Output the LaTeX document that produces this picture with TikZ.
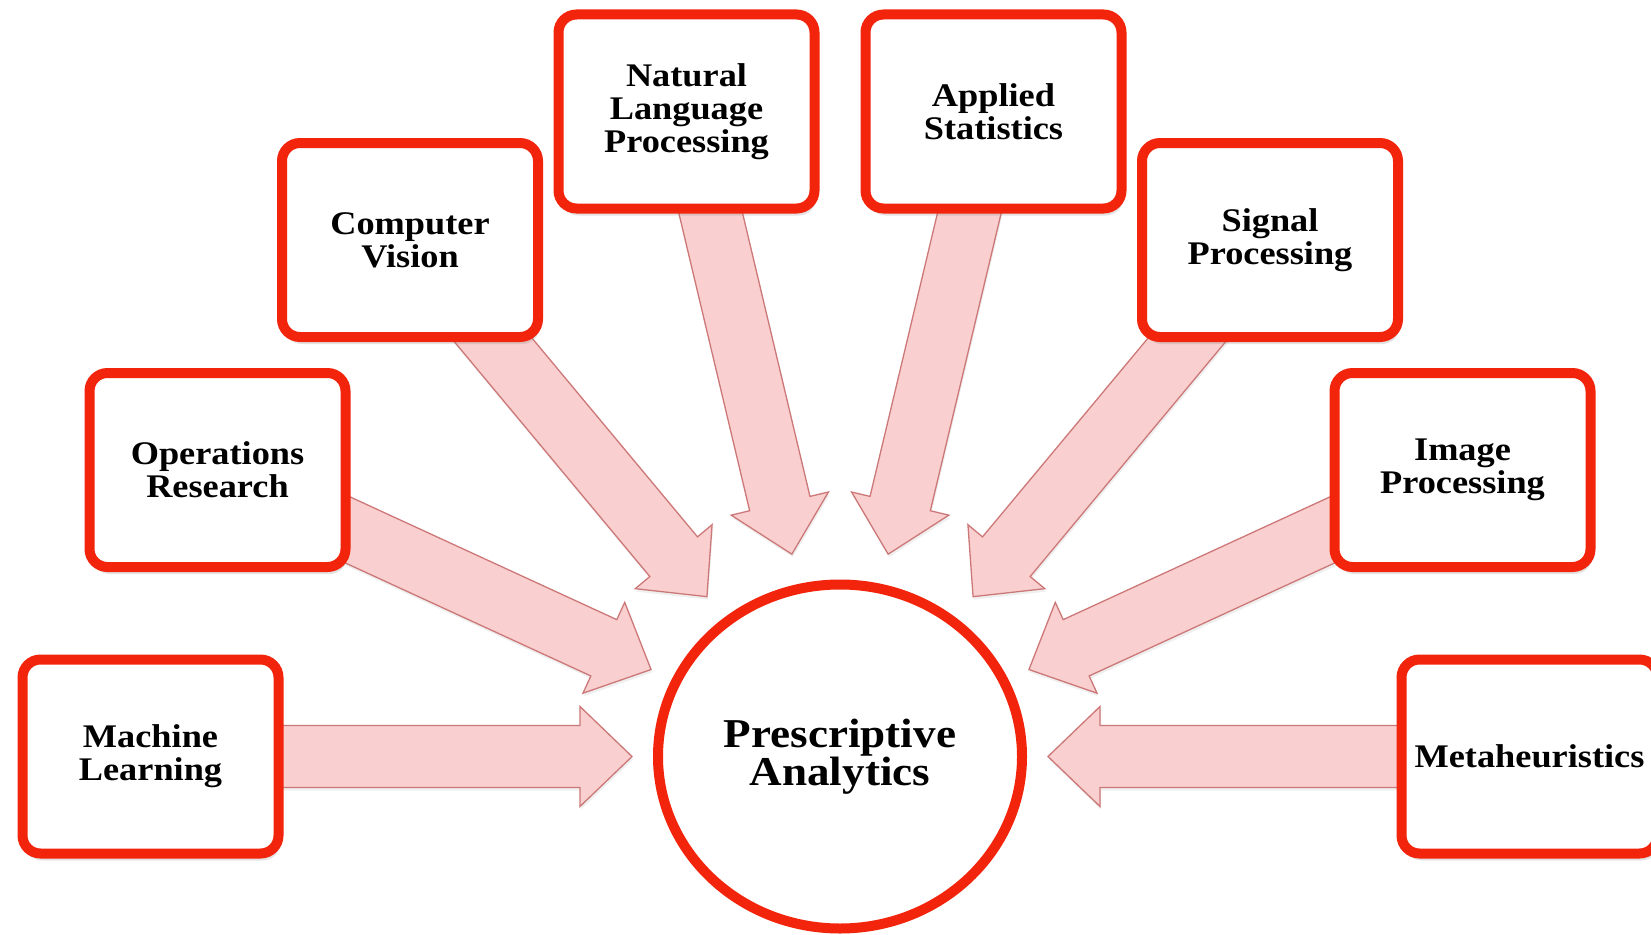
\documentclass[tikz,border=0pt]{standalone}
\usepackage{fontspec}
\setmainfont[FakeStretch=1.1]{Liberation Serif}
\usetikzlibrary{calc,shadows,backgrounds,shapes.geometric}
\definecolor{boxred}{RGB}{243,36,12}
\definecolor{arrowfill}{RGB}{249,207,207}
\definecolor{arrowline}{RGB}{205,120,120}
\tikzset{
  topic/.style={draw=boxred, line width=10pt, rounded corners=18pt, fill=white,
    minimum width=256pt, minimum height=194pt, inner sep=0pt, align=center,
    font=\fontsize{33}{33}\selectfont\bfseries,
    drop shadow={shadow xshift=2pt, shadow yshift=-7pt, opacity=0.22}},
  hub/.style={ellipse, draw=boxred, line width=10pt, fill=white, minimum width=364pt,
    minimum height=344pt, inner sep=0pt, align=center,
    font=\fontsize{41}{38}\selectfont\bfseries},
  blockarrow/.style={fill=arrowfill, draw=arrowline, line width=1.3pt, line join=miter,
    drop shadow={shadow xshift=1pt, shadow yshift=-3pt, opacity=0.12}}
}
\newcommand\flowarrow[2]{%
  \coordinate (#2-tip) at ($(hub.center)!208pt!(#1.center)$);
  \coordinate (#2-base) at ($(hub.center)!260pt!(#1.center)$);
  \path[blockarrow] ($(#1.center)!31pt!90:(hub.center)$)
    -- ($(#2-base)!31pt!90:(hub.center)$)
    -- ($(#2-base)!50pt!90:(hub.center)$)
    -- (#2-tip)
    -- ($(#2-base)!50pt!-90:(hub.center)$)
    -- ($(#2-base)!31pt!-90:(hub.center)$)
    -- ($(#1.center)!31pt!-90:(hub.center)$) -- cycle;
}
\begin{document}
\begin{tikzpicture}[x=1pt,y=-1pt]
\useasboundingbox (0,0) rectangle (1651,934);
\node[hub] (hub) at (840,756.5) {Prescriptive\\Analytics};
\node[topic] (ml) at (150.5,756.5) {Machine\\Learning};
\node[topic] (or) at (217.5,470) {Operations\\Research};
\node[topic] (cv) at (410,240) {Computer\\Vision};
\node[topic] (nlp) at (686.5,111.5) {Natural\\Language\\Processing};
\node[topic] (as) at (993.5,111.5) {Applied\\Statistics};
\node[topic] (sp) at (1270,240) {Signal\\Processing};
\node[topic] (ip) at (1462.5,470) {Image\\Processing};
\node[topic] (mh) at (1529.5,756.5) {Metaheuristics};
\begin{scope}[on background layer]
\fill[white] (0,0) rectangle (1651,934);
\flowarrow{ml}{a1}
\flowarrow{or}{a2}
\flowarrow{cv}{a3}
\flowarrow{nlp}{a4}
\flowarrow{as}{a5}
\flowarrow{sp}{a6}
\flowarrow{ip}{a7}
\flowarrow{mh}{a8}
\end{scope}
\end{tikzpicture}
\end{document}
